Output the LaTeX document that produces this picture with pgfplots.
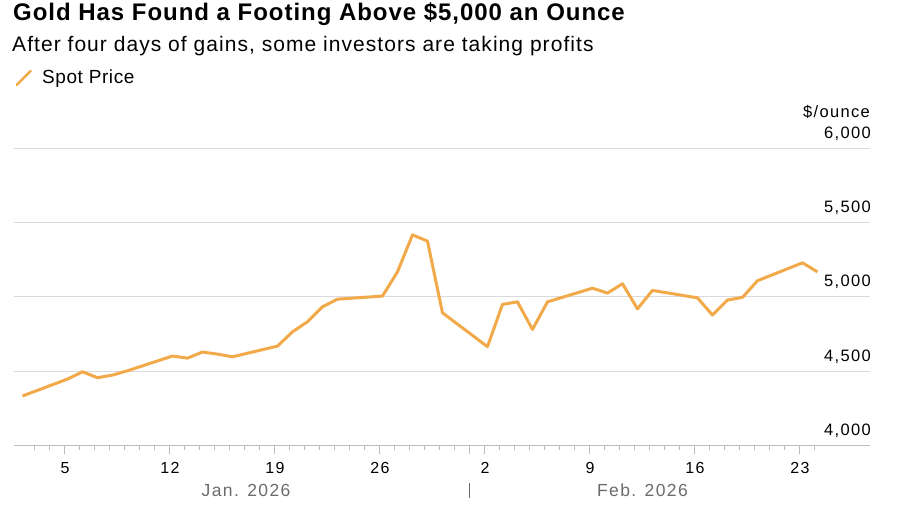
\documentclass[border=0pt]{standalone}
\usepackage{fontspec}
\setmainfont{Liberation Sans}
\newfontfamily\titlefont[LetterSpace=4]{Liberation Sans}
\newfontfamily\subfont[LetterSpace=5]{Liberation Sans}
\newfontfamily\legfont[LetterSpace=3]{Liberation Sans}
\newfontfamily\tickfont[LetterSpace=8]{Liberation Sans}
\usepackage{pgfplots}
\pgfplotsset{compat=1.18}

\definecolor{gold}{HTML}{F2A94A}
\definecolor{gridgray}{HTML}{DADADA}
\definecolor{axisgray}{HTML}{BDBDBD}
\definecolor{monthgray}{HTML}{6B6B6B}

\begin{document}
\begin{tikzpicture}
\useasboundingbox (0bp,0bp) rectangle (900bp,510bp);

% title block
\node[anchor=base west, inner sep=0, font=\titlefont\fontsize{24bp}{28bp}\selectfont\bfseries]
  at (13bp,489.3bp) {Gold Has Found a Footing Above \$5,000 an Ounce};
\node[anchor=base west, inner sep=0, font=\subfont\fontsize{21bp}{25bp}\selectfont]
  at (12bp,458.3bp) {After four days of gains, some investors are taking profits};
\draw[gold, line width=2.5bp, line cap=round] (16.7bp,425bp) -- (30.7bp,439bp);
\node[anchor=base west, inner sep=0, font=\legfont\fontsize{19bp}{23bp}\selectfont]
  at (42bp,426bp) {Spot Price};

\begin{axis}[
  at={(14bp,64.7bp)}, anchor=south west,
  scale only axis, width=856bp, height=297bp,
  xmin=1.6, xmax=58.67, ymin=4000, ymax=6000,
  axis x line*=bottom, axis y line*=right,
  x axis line style={axisgray, line width=1bp, -},
  y axis line style={draw=none},
  tick align=outside,
  xtick={5,12,19,26,33,40,47,54},
  xticklabels={5,12,19,26,2,9,16,23},
  extra x ticks={32}, extra x tick labels={},
  minor xtick={3,4,...,55},
  major tick length=9bp, minor tick length=5bp,
  xtick style={axisgray, line width=1bp},
  every minor tick/.append style={axisgray, line width=1bp},
  ytick={4000,4500,5000,5500,6000},
  ytick style={draw=none},
  ymajorgrids, grid style={gridgray, line width=1bp},
  scaled y ticks=false,
  yticklabel pos=right,
  xticklabel style={font=\tickfont\fontsize{16bp}{19bp}\selectfont, anchor=base, inner sep=0pt, yshift=-18.7bp},
  yticklabel style={font=\tickfont\fontsize{16.5bp}{20bp}\selectfont, anchor=base east, inner sep=0pt,
    yshift=10bp, xshift=-8bp,
    /pgf/number format/1000 sep={,}, /pgf/number format/assume math mode=true},
  clip=false,
]
\addplot[gold, line width=3bp, line join=round, xshift=2.5bp] coordinates {
  (2,4332) (5,4446) (6,4495) (7,4455) (8,4473) (9,4502)
  (12,4601) (13,4587) (14,4628) (15,4614) (16,4596)
  (19,4668) (20,4764) (21,4832) (22,4933) (23,4984)
  (26,5005) (27,5168) (28,5417) (29,5375) (30,4892)
  (33,4664) (34,4949) (35,4966) (36,4780) (37,4966)
  (40,5058) (41,5025) (42,5088) (43,4919) (44,5043)
  (47,4993) (48,4877) (49,4978) (50,4996) (51,5108)
  (54,5229) (55,5168)
};
\node[anchor=base east, inner sep=0, font=\tickfont\fontsize{16.5bp}{20bp}\selectfont, yshift=31bp]
  at (rel axis cs:1,1) {\$/ounce};
\node[anchor=base, inner sep=0, text=monthgray, font=\tickfont\fontsize{17.5bp}{21bp}\selectfont, yshift=-51bp]
  at (axis cs:17.07,4000) {Jan. 2026};
\node[anchor=base, inner sep=0, text=monthgray, font=\tickfont\fontsize{17.5bp}{21bp}\selectfont, yshift=-51bp]
  at (axis cs:43.5,4000) {Feb. 2026};
\draw[monthgray, line width=1bp] (axis cs:32,4000) ++(0bp,-38bp) -- ++(0bp,-15bp);
\end{axis}
\end{tikzpicture}
\end{document}
